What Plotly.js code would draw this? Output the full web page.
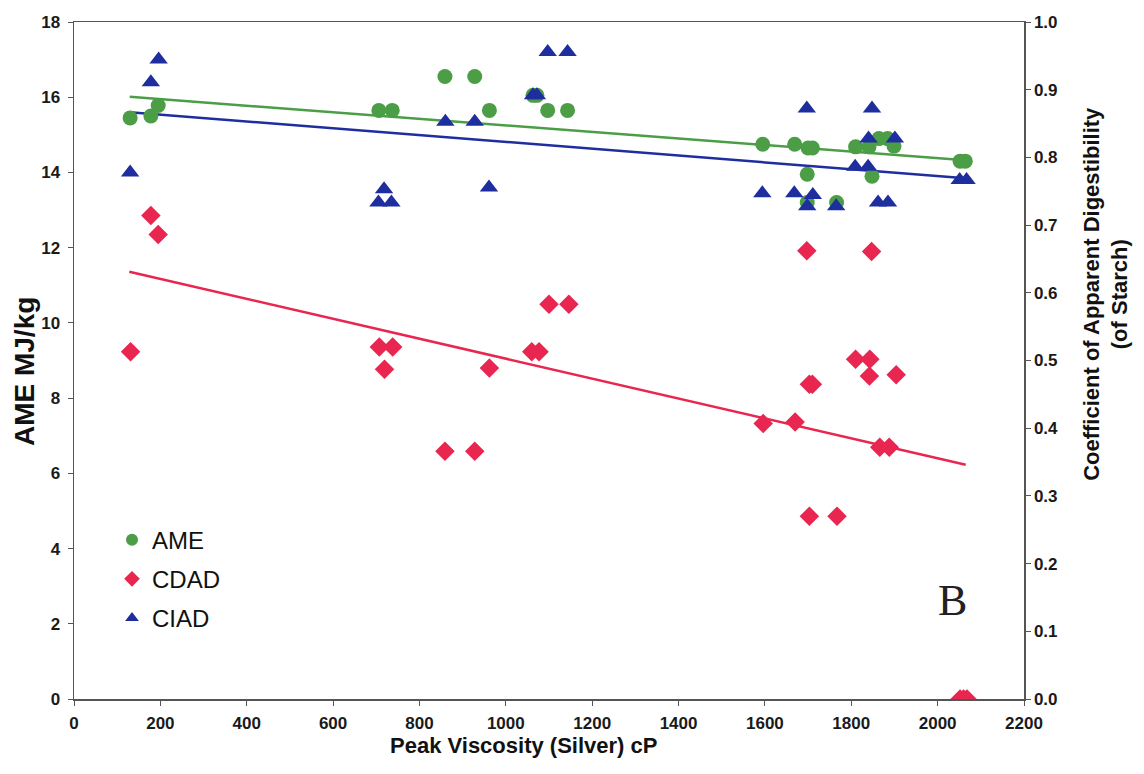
<!DOCTYPE html>
<html>
<head>
<meta charset="utf-8">
<script src="https://cdn.plot.ly/plotly-3.0.1.min.js"></script>
<style>html,body{margin:0;padding:0;background:#fff;}#chart{width:1144px;height:774px;}</style>
</head>
<body>
<div id="chart"></div>
<script>
// AME (MJ/kg), left axis
const ameX = [130, 178, 195, 706, 737, 859, 928, 962, 1063, 1072, 1097, 1143, 1595, 1669, 1700, 1710, 1698, 1698, 1766, 1810, 1841, 1848, 1864, 1884, 1899, 2052, 2064];
const ameY = [15.45, 15.5, 15.78, 15.65, 15.65, 16.55, 16.55, 15.65, 16.05, 16.05, 15.65, 15.65, 14.75, 14.75, 14.65, 14.65, 13.95, 13.2, 13.2, 14.68, 14.68, 13.9, 14.9, 14.9, 14.7, 14.3, 14.3];
// CDAD (coefficient), right axis
const cdadX = [131, 178, 195, 707, 738, 719, 859, 928, 962, 1060, 1077, 1100, 1146, 1596, 1670, 1697, 1847, 1810, 1843, 1842, 1904, 1703, 1710, 1866, 1888, 1703, 1767, 2052, 2060, 2068];
const cdadY = [0.513, 0.714, 0.686, 0.52, 0.52, 0.487, 0.366, 0.366, 0.489, 0.513, 0.513, 0.583, 0.583, 0.407, 0.409, 0.662, 0.661, 0.502, 0.502, 0.477, 0.479, 0.465, 0.465, 0.372, 0.372, 0.27, 0.27, 0.0, 0.0, 0.0];
// CIAD, plotted on the left scale as in the figure
const ciadX = [130, 178, 196, 705, 735, 718, 860, 928, 961, 1063, 1072, 1097, 1143, 1594, 1668, 1697, 1711, 1698, 1765, 1848, 1840, 1901, 1809, 1839, 1862, 1885, 2051, 2067];
const ciadY = [14.0, 16.4, 17.0, 13.2, 13.2, 13.55, 15.35, 15.35, 13.6, 16.05, 16.05, 17.2, 17.2, 13.45, 13.45, 15.7, 13.4, 13.1, 13.1, 15.7, 14.9, 14.9, 14.15, 14.15, 13.2, 13.2, 13.8, 13.8];
// Trend lines (endpoints)
const trendX = [129, 2072];
const ameTrend = [16.01, 14.32];
const ciadTrend = [15.6, 13.84];
const cdadTrendX = [128, 2065];
const cdadTrend = [0.631, 0.346];
const xTicks = [0, 200, 400, 600, 800, 1000, 1200, 1400, 1600, 1800, 2000, 2200];

const green = '#4b9e46', red = '#e8264f', blue = '#1f2e9e';
const fam = 'Liberation Sans, Arial, sans-serif';
const tickFont = {family: fam, size: 17, color: '#1a1a1a', weight: 'bold'};

const traces = [
  {x: trendX, y: ameTrend, mode: 'lines', line: {color: green, width: 2.5}, showlegend: false, hoverinfo: 'skip'},
  {x: trendX, y: ciadTrend, mode: 'lines', line: {color: blue, width: 2.5}, showlegend: false, hoverinfo: 'skip'},
  {x: cdadTrendX, y: cdadTrend, yaxis: 'y2', mode: 'lines', line: {color: red, width: 2.5}, showlegend: false, hoverinfo: 'skip'},
  {x: ameX, y: ameY, name: 'AME', mode: 'markers', legendgroup: 'a', marker: {symbol: 'circle', size: 15, color: green}},
  {x: cdadX, y: cdadY, name: 'CDAD', yaxis: 'y2', mode: 'markers', legendgroup: 'b', marker: {symbol: 'diamond', size: 15, color: red}},
  {x: ciadX, y: ciadY, name: 'CIAD', mode: 'markers', legendgroup: 'c', marker: {symbol: 'triangle-up', size: 16, color: blue}}
];

const layout = {
  width: 1144, height: 774,
  margin: {l: 74, r: 120, t: 22, b: 75},
  paper_bgcolor: '#ffffff', plot_bgcolor: '#ffffff',
  showlegend: true,
  legend: {x: 0.04, y: 0.268, xanchor: 'left', yanchor: 'top', bgcolor: 'rgba(0,0,0,0)',
           font: {family: fam, size: 24, color: '#111'},
           traceorder: 'grouped', tracegroupgap: 5, itemsizing: 'constant'},
  xaxis: {range: [0, 2200], tickvals: xTicks, ticktext: xTicks.map(String), showgrid: false, zeroline: false,
          showline: true, linecolor: '#555', linewidth: 1.5, mirror: true, ticks: 'outside', ticklen: 5, tickcolor: '#555',
          tickfont: tickFont, ticklabelstandoff: 3},
  yaxis: {range: [0, 18], dtick: 2, showgrid: false, zeroline: false, showline: true, linecolor: '#555', linewidth: 1.5,
          ticks: 'outside', ticklen: 5, tickcolor: '#555', tickfont: tickFont, ticklabelstandoff: 4},
  yaxis2: {range: [0, 1.0], dtick: 0.1, tickformat: '.1f', overlaying: 'y', side: 'right', showgrid: false, zeroline: false,
           showline: true, linecolor: '#555', linewidth: 1.5, ticks: 'outside', ticklen: 5, tickcolor: '#555', tickfont: tickFont},
  annotations: [
    {text: 'B', xref: 'paper', yref: 'paper', x: 0.925, y: 0.146, xanchor: 'center', yanchor: 'middle', showarrow: false,
     font: {family: 'Liberation Serif, Times New Roman, serif', size: 44, color: '#222'}},
    {text: 'AME MJ/kg', xref: 'paper', yref: 'paper', x: -0.0526, y: 0.483, xanchor: 'center', yanchor: 'middle',
     textangle: -90, showarrow: false, font: {family: fam, size: 28, color: '#111', weight: 'bold'}},
    {text: 'Peak Viscosity (Silver) cP', xref: 'paper', yref: 'paper', x: 0.473, y: -0.068, xanchor: 'center', yanchor: 'middle',
     showarrow: false, font: {family: fam, size: 22, color: '#111', weight: 'bold'}},
    {text: 'Coefficient of Apparent Digestibility<br>(of Starch)', xref: 'paper', yref: 'paper', x: 1.086, y: 0.598,
     xanchor: 'center', yanchor: 'middle', textangle: -90, showarrow: false,
     font: {family: fam, size: 22, color: '#111', weight: 'bold'}}
  ]
};

Plotly.newPlot('chart', traces, layout, {displayModeBar: false, staticPlot: true});
</script>
</body>
</html>
